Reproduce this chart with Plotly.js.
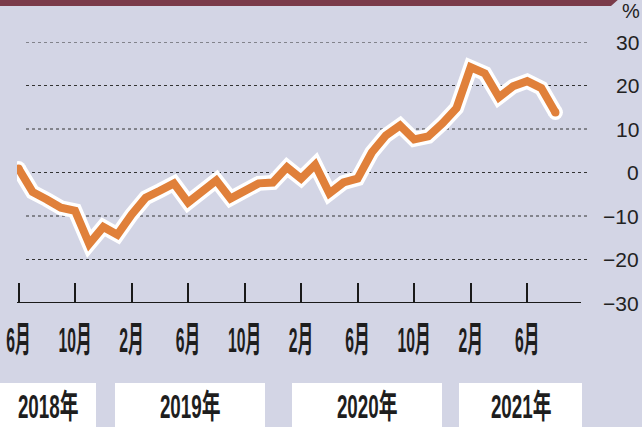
<!DOCTYPE html>
<html><head><meta charset="utf-8">
<script src="https://cdn.plot.ly/plotly-3.0.1.min.js"></script>
<style>html,body{margin:0;padding:0;background:#d3d5e5;overflow:hidden}</style>
</head><body><div id="c" style="width:642px;height:427px"></div>
<script>
// ---- data ----
const months = ['2018-06','2018-07','2018-08','2018-09','2018-10','2018-11','2018-12',
  '2019-01','2019-02','2019-03','2019-04','2019-05','2019-06','2019-07','2019-08','2019-09','2019-10','2019-11','2019-12',
  '2020-01','2020-02','2020-03','2020-04','2020-05','2020-06','2020-07','2020-08','2020-09','2020-10','2020-11','2020-12',
  '2021-01','2021-02','2021-03','2021-04','2021-05','2021-06','2021-07','2021-08'];
const values = [0.9,-4.5,-6.2,-8.1,-8.8,-16.4,-12.5,
  -14.3,-9.7,-5.8,-4.2,-2.5,-6.9,-4.2,-1.8,-6.0,-4.4,-2.5,-2.3,
  1.2,-1.4,1.8,-4.8,-2.3,-1.4,4.6,8.5,10.8,7.6,8.3,11.3,
  14.8,24.2,22.8,17.3,19.8,21.0,19.4,13.8];
const tickMonths = ['2018-06','2018-10','2019-02','2019-06','2019-10','2020-02','2020-06','2020-10','2021-02','2021-06'];
const tickLabels = ['6月','10月','2月','6月','10月','2月','6月','10月','2月','6月'];
const yGrid = [30,20,10,0,-10,-20];
const yTickVals = [30,20,10,0,-10,-20,-30];
const yTickLabels = ['30','20','10','0','−10','−20','−30'];
const yearLabels = ['2018年','2019年','2020年','2021年'];

// ---- layout geometry ----
const W=642,H=427, L=17, R=54, T=42, B=124;
const PW=W-L-R, PH=H-T-B;
const px=x=>(x-L)/PW, py=y=>(H-B-y)/PH;
const idx = m => months.indexOf(m);
const xs = months.map((m,i)=>i);
const X0=18.5, DX=14.13; // pixel of first month, pixels per month

const bg='#d3d5e5';
const shapes=[];
yGrid.forEach(v=>shapes.push({type:'line',xref:'paper',yref:'y',x0:px(26),x1:px(588),y0:v,y1:v,
  line:{color:'#333',width:1,dash:'dot'},layer:'below'}));
shapes.push({type:'line',xref:'paper',yref:'y',x0:px(17),x1:px(581),y0:-30,y1:-30,line:{color:'#1a1a1a',width:2},layer:'above'});
shapes.push({type:'path',xref:'paper',yref:'paper',
  path:`M ${px(0)} ${py(-2)} L ${px(620)} ${py(-2)} L ${px(611)} ${py(6)} L ${px(0)} ${py(6)} Z`,
  fillcolor:'#7a3b4a',line:{width:0},layer:'above'});
const boxes=[[0,96],[115,265],[292,442],[459,582]];
boxes.forEach(b=>shapes.push({type:'rect',xref:'paper',yref:'paper',x0:px(b[0]),x1:px(b[1]),y0:py(430),y1:py(383),
  fillcolor:'#ffffff',line:{width:0},layer:'above'}));

const ann=[];
yTickVals.forEach((v,i)=>ann.push({xref:'paper',yref:'y',x:px(641),y:v,xanchor:'right',yanchor:'middle',
  text:yTickLabels[i],showarrow:false,font:{family:'Liberation Sans, Arial',size:21,color:'#222'}}));
ann.push({xref:'paper',yref:'paper',x:px(642),y:py(11),xanchor:'right',yanchor:'middle',text:'%',showarrow:false,
  font:{family:'Liberation Sans, Arial',size:20,color:'#222'}});
const YEAR_START = ann.length;
boxes.forEach((b,i)=>ann.push({xref:'paper',yref:'paper',x:px((b[0]+b[1])/2),y:py(406),xanchor:'center',yanchor:'middle',
  text:'<b>'+yearLabels[i]+'</b>',showarrow:false,font:{family:'Liberation Sans, Noto Sans CJK JP',size:33,color:'#1e1e1e'}}));

const traces=[
 {x:xs,y:values,mode:'lines',line:{color:'#ffffff',width:15},hoverinfo:'skip'},
 {x:[xs[0],xs[xs.length-1]],y:[values[0],values[values.length-1]],mode:'markers',marker:{color:'#ffffff',size:15},hoverinfo:'skip'},
 {x:xs,y:values,mode:'lines',line:{color:'#e0803a',width:8},hoverinfo:'skip'},
 {x:[xs[0],xs[xs.length-1]],y:[values[0],values[values.length-1]],mode:'markers',marker:{color:'#e0803a',size:8},hoverinfo:'skip'}
];

const layout={
  width:W,height:H,margin:{l:L,r:R,t:T,b:B,pad:0},
  paper_bgcolor:bg,plot_bgcolor:bg,showlegend:false,
  xaxis:{range:[(17-X0)/DX,(L+PW-X0)/DX],tickmode:'array',tickvals:tickMonths.map(idx),ticktext:tickLabels,
    tickangle:0,automargin:false,ticklabeloverflow:'allow',
    ticks:'inside',ticklen:20,tickwidth:2,tickcolor:'#1a1a1a',showgrid:false,zeroline:false,showline:false,
    ticklabelstandoff:13,
    tickfont:{family:'Liberation Sans, Noto Sans CJK JP',size:35,color:'#1e1e1e',weight:'bold'},fixedrange:true},
  yaxis:{range:[-30,30],showticklabels:false,ticks:'',showgrid:false,zeroline:false,showline:false,fixedrange:true},
  shapes:shapes,annotations:ann
};

function squeeze(el,s){
  if(el.getAttribute('data-sq')) return;
  const bb=el.getBBox(); const cx=bb.x+bb.width/2;
  const tr=el.getAttribute('transform')||'';
  el.setAttribute('transform',tr+` translate(${cx},0) scale(${s},1) translate(${-cx},0)`);
  el.setAttribute('data-sq','1');
}
Plotly.newPlot('c',traces,layout,{staticPlot:true,displayModeBar:false}).then(gd=>{
  gd.querySelectorAll('.xtick text').forEach(t=>squeeze(t,0.45));
  for(let i=0;i<yearLabels.length;i++){
    gd.querySelectorAll(`g.annotation[data-index="${YEAR_START+i}"] text`).forEach(t=>squeeze(t,0.57));
  }
});
</script></body></html>
